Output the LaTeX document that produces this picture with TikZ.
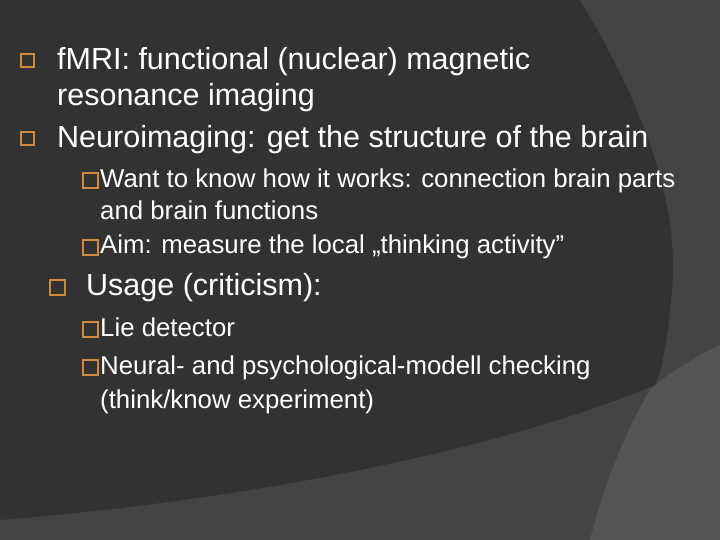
\documentclass[tikz,border=0pt]{standalone}
\usepackage{fontspec}
\setmainfont{Liberation Sans}
\usetikzlibrary{positioning}
\definecolor{slidedark}{HTML}{323232}
\definecolor{slidemid}{HTML}{444444}
\definecolor{slidelight}{HTML}{555555}
\definecolor{bulletorange}{HTML}{D08A3A}
\begin{document}
\begin{tikzpicture}[x=1pt,y=-1pt]
  % Styles
  \tikzset{
    mainline/.style={anchor=base west, text=white, font=\fontsize{30.5}{34}\selectfont, inner sep=0pt},
    subline/.style={anchor=base west, text=white, font=\fontsize{25.8}{30}\selectfont, inner sep=0pt},
    mainbox/.style={draw=bulletorange, line width=2pt, minimum size=13pt, inner sep=0pt},
    subbox/.style={draw=bulletorange, line width=2pt, minimum size=15pt, inner sep=0pt}
  }

  % background
  \fill[slidemid] (0,0) rectangle (720,540);
  \useasboundingbox (0,0) rectangle (720,540);
  \fill[slidelight] (720,345) .. controls (690,360) and (665,375) .. (650,390)
    .. controls (620,440) and (600,500) .. (590,540) -- (720,540) -- cycle;
  \fill[slidedark] (0,0) -- (580,0) .. controls (640,100) and (680,200) .. (672,290)
    .. controls (668,340) and (662,370) .. (655,385)
    .. controls (500,450) and (250,500) .. (0,520) -- cycle;

  % first bullets
  \node[mainbox] (b1) at (27,61) {};
  \node[mainline] (t1) at (57,70) {fMRI: functional (nuclear) magnetic};
  \node[mainline] (t1b) at (57,106) {resonance imaging};
  \node[mainbox] (b2) at (27,139) {};
  \node[mainline] (t2) at (57,148) {Neuroimaging: get the structure of the brain};

  \node[subbox] (s1) at (90,181) {};
  \node[subline] (u1) at (100,188) {Want to know how it works: connection brain parts};
  \node[subline] (u1b) at (100,220) {and brain functions};
  \node[subbox] (s2) at (90,247) {};
  \node[subline] (u2) at (100,254) {Aim: measure the local „thinking activity”};

  % usage
  \node[subbox] (b3) at (57,287) {};
  \node[mainline] (t3) at (86,295) {Usage (criticism):};

  \node[subbox] (s3) at (90,329) {};
  \node[subline] (u3) at (100,336) {Lie detector};
  \node[subbox] (s4) at (90,367) {};
  \node[subline] (u4) at (100,374) {Neural- and psychological-modell checking};
  \node[subline] (u4b) at (100,408) {(think/know experiment)};
\end{tikzpicture}
\end{document}
